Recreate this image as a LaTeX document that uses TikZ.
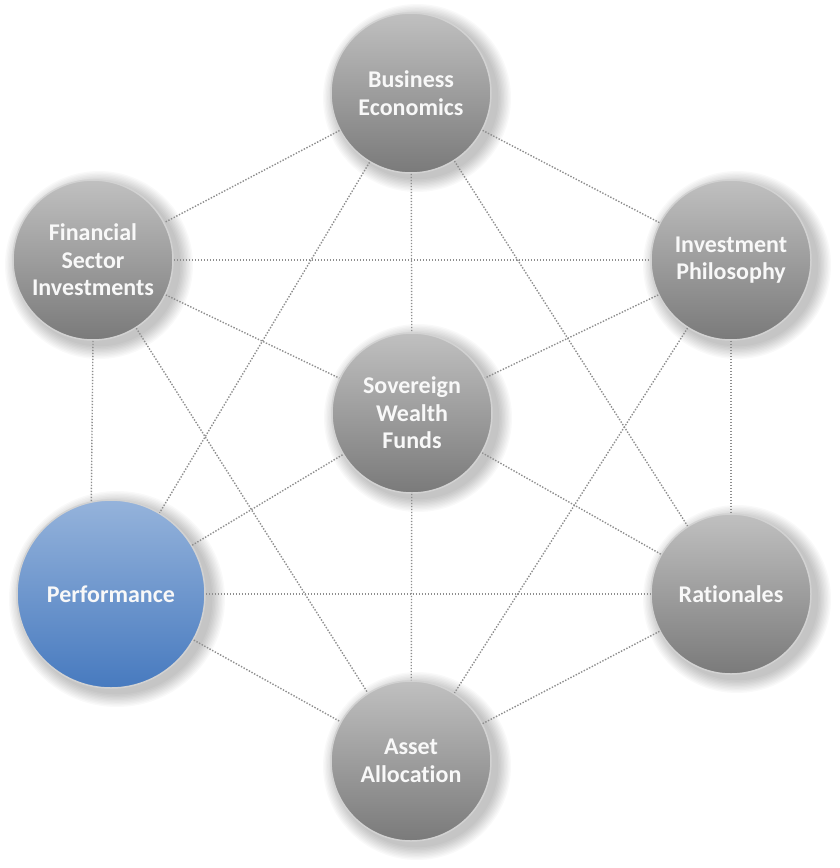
\documentclass[tikz,border=0pt]{standalone}
\usepackage{fontspec}
\setmainfont{Carlito}[Ligatures={NoCommon}]
\usetikzlibrary{backgrounds}
\definecolor{lnk}{HTML}{8E8E8E}
\definecolor{gtop}{HTML}{C0C0C0}
\definecolor{gbot}{HTML}{7A7A7A}
\definecolor{btop}{HTML}{95B3DB}
\definecolor{bbot}{HTML}{477ABF}
\definecolor{rim}{HTML}{D2D2D2}
\definecolor{txt}{HTML}{F8F8F8}
\begin{document}
\begin{tikzpicture}[x=1pt,y=-1pt,
  hub/.style={circle, draw=rim, line width=1.5pt, top color=gtop, bottom color=gbot,
    minimum size=160pt, inner sep=0pt, text=txt,
    font=\bfseries\fontsize{24}{27.5}\selectfont, align=center},
  hubblue/.style={hub, top color=btop, bottom color=bbot, minimum size=188pt},
  link/.style={draw=lnk, line width=1.4pt, dash pattern=on 1.4pt off 1.6pt}]
\useasboundingbox (0,0) rectangle (840,868);

\node[hub] (be)  at (411,93)  {Business\\Economics};
\node[hub] (fsi) at (93,260)  {Financial\\Sector\\Investments};
\node[hub] (ip)  at (731,260) {Investment\\Philosophy};
\node[hub] (swf) at (412,413) {Sovereign\\Wealth\\Funds};
\node[hubblue] (perf) at (111,594) {Performance};
\node[hub] (rat) at (731,594) {Rationales};
\node[hub] (aa)  at (411,761) {Asset\\Allocation};

\begin{scope}[on background layer]
  \fill[white] (0,0) rectangle (840,868);
  \foreach \n/\r in {be/80, fsi/80, ip/80, swf/80, perf/94, rat/80, aa/80} {
    \foreach \i in {1,...,10} {
      \fill[black, opacity=0.022] ([shift={(6,5)}]\n.center) circle ({\r+\i*1.4});
    }
  }
\end{scope}

\foreach \a/\b in {be/fsi, be/ip, be/swf, be/perf, be/rat,
                   fsi/ip, fsi/swf, fsi/aa,
                   ip/swf, ip/rat, ip/aa,
                   perf/swf, perf/rat, perf/aa,
                   rat/swf, rat/aa, swf/aa}
  \draw[link] (\a) -- (\b);
\draw[link] (fsi.south) -- (perf.102);
\end{tikzpicture}
\end{document}
